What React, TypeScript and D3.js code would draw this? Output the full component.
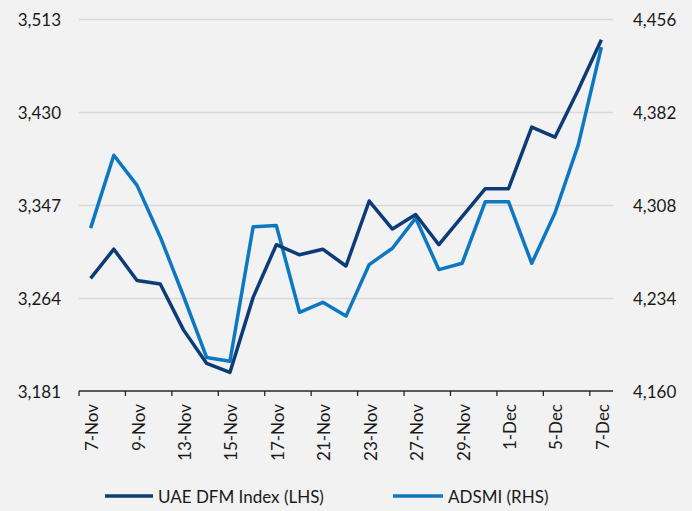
import React from "react";
import * as d3 from "d3";

const categories = ["7-Nov","8-Nov","9-Nov","10-Nov","13-Nov","14-Nov","15-Nov","16-Nov","17-Nov","20-Nov","21-Nov","22-Nov","23-Nov","24-Nov","27-Nov","28-Nov","29-Nov","30-Nov","1-Dec","4-Dec","5-Dec","6-Dec","7-Dec"];
const dfmValues = [3282,3308,3280,3277,3236,3206,3198,3265,3312,3303,3308,3293,3351,3326,3339,3312,3337,3362,3362,3417,3408,3450,3495];
const adsmiValues = [4290,4348,4324,4283,4236,4187,4184,4291,4292,4223,4231,4220,4261,4274,4298,4257,4262,4311,4311,4262,4302,4356,4434];
const leftTicks = [3181,3264,3347,3430,3513];
const rightTicks = [4160,4234,4308,4382,4456];
const seriesNames = ["UAE DFM Index (LHS)", "ADSMI (RHS)"];
const colors = ["#0b3c78", "#0c78c2"];

const W = 692, H = 511;
const FONT = "Lato, 'Open Sans', sans-serif";

export default function App() {
  const x = d3.scaleBand<string>().domain(categories).range([79, 613]).paddingInner(0).paddingOuter(0);
  const px = (c: string) => (x(c) ?? 0) + x.bandwidth() / 2;
  const yL = d3.scaleLinear().domain([3181, 3513]).range([391.5, 19.5]);
  const yR = d3.scaleLinear().domain([4160, 4456]).range([391.5, 19.5]);
  const fmt = d3.format(",");

  const lineL = d3.line<number>().x((_, i) => px(categories[i])).y((v) => yL(v));
  const lineR = d3.line<number>().x((_, i) => px(categories[i])).y((v) => yR(v));

  const tickCats = categories.filter((_, i) => i % 2 === 0);

  return (
    <div style={{ position: "fixed", left: 0, top: 0 }}>
      <svg width={W} height={H} style={{ display: "block" }} fontFamily={FONT}>
        <rect x={0} y={0} width={W} height={H} fill="#f2f2f2" />
        {leftTicks.slice(1).map((t) => (
          <line key={t} x1={79} x2={613} y1={yL(t)} y2={yL(t)} stroke="#d9d9d9" strokeWidth={1.3} />
        ))}
        {leftTicks.map((t) => (
          <text key={"l" + t} x={61} y={yL(t)} textAnchor="end" dominantBaseline="central" fontSize={17} fill="#1a1a1a">{fmt(t)}</text>
        ))}
        {rightTicks.map((t) => (
          <text key={"r" + t} x={633} y={yR(t)} textAnchor="start" dominantBaseline="central" fontSize={17} fill="#1a1a1a">{fmt(t)}</text>
        ))}
        <line x1={79} x2={613} y1={391} y2={391} stroke="#262626" strokeWidth={1.3} />
        {tickCats.map((c) => (
          <line key={"t" + c} x1={x(c)} x2={x(c)} y1={391} y2={396} stroke="#262626" strokeWidth={1.3} />
        ))}
        {tickCats.map((c) => (
          <text key={"x" + c} transform={`translate(${px(c) + 1},404) rotate(-90)`} textAnchor="end" dominantBaseline="central" fontSize={17} fill="#1a1a1a">{c}</text>
        ))}
        <path d={lineR(adsmiValues) ?? ""} fill="none" stroke={colors[1]} strokeWidth={3.5} strokeLinejoin="round" />
        <path d={lineL(dfmValues) ?? ""} fill="none" stroke={colors[0]} strokeWidth={3.5} strokeLinejoin="round" />
        <line x1={105} x2={153} y1={496} y2={496} stroke={colors[0]} strokeWidth={3.5} />
        <text x={158} y={496} dominantBaseline="central" fontSize={17} fill="#1a1a1a">{seriesNames[0]}</text>
        <line x1={393} x2={443} y1={496} y2={496} stroke={colors[1]} strokeWidth={3.5} />
        <text x={448} y={496} dominantBaseline="central" fontSize={17} fill="#1a1a1a">{seriesNames[1]}</text>
      </svg>
    </div>
  );
}
